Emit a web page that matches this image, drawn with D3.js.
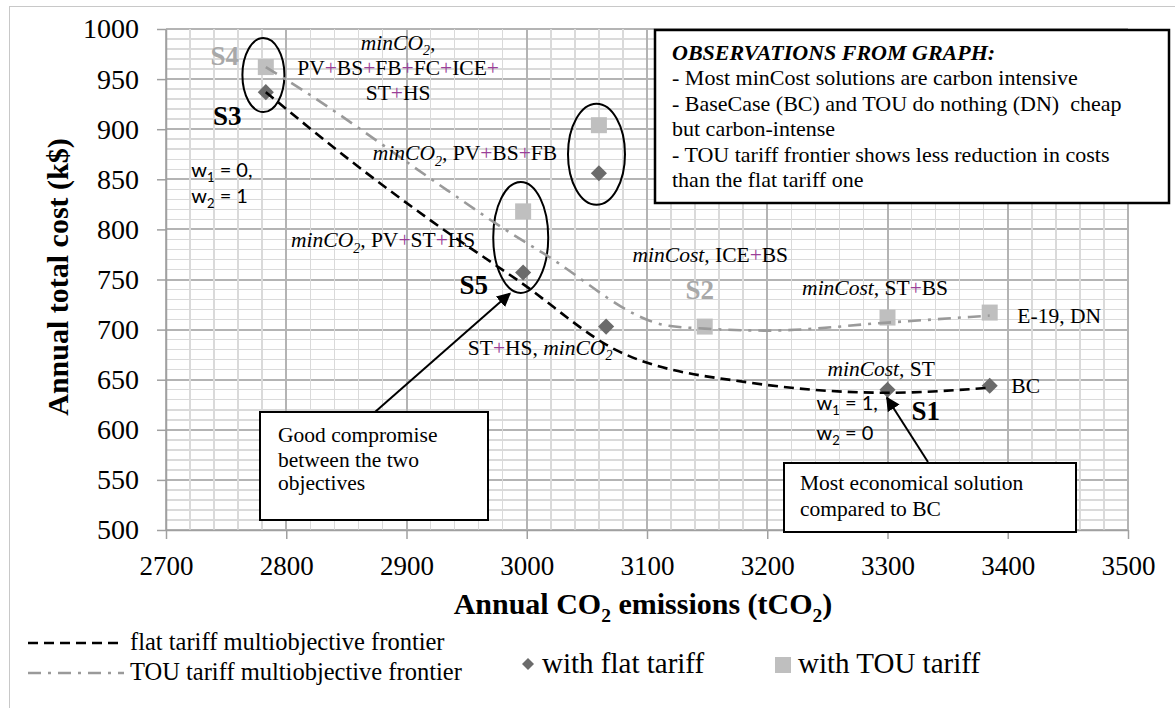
<!DOCTYPE html>
<html>
<head>
<meta charset="utf-8">
<script src="https://cdn.jsdelivr.net/npm/d3@7"></script>
<style>
  body { margin: 0; background: #fff; }
  svg { display: block; }
  text { white-space: pre; }
</style>
</head>
<body>
<svg id="chart" width="1175" height="708"></svg>
<script>
// solutions (annual CO2 in tCO2, annual cost in k$)
const flatX = [2783, 2997, 3066, 3060, 3300, 3385]
const flatY = [937, 757, 703, 856, 640, 644]
const touX = [2783, 2997, 3060, 3148, 3300, 3385]
const touY = [962, 818, 904, 703, 712, 717]

// multiobjective frontiers
const flatFrontierX = [2783, 2853, 2920, 2994, 3077, 3186, 3300, 3385]
const flatFrontierY = [937, 869, 809, 748, 678, 647, 637, 642]
const touFrontierX = [2783, 2811, 2934, 2978, 3014, 3117, 3148, 3200, 3300, 3385]
const touFrontierY = [962, 941, 839, 803, 776, 704, 701, 699, 707, 714]

const xTicks = [2700, 2800, 2900, 3000, 3100, 3200, 3300, 3400, 3500]
const yTicks = [500, 550, 600, 650, 700, 750, 800, 850, 900, 950, 1000]

const observations = [
  '- Most minCost solutions are carbon intensive',
  '- BaseCase (BC) and TOU do nothing (DN)  cheap',
  'but carbon-intense',
  '- TOU tariff frontier shows less reduction in costs',
  'than the flat tariff one'
]

const serif = '"Liberation Serif", "Times New Roman", serif'
const sans = 'Lato, "Liberation Sans", sans-serif'
const plusColor = '#9a3f98'

const svg = d3.select('#chart')

const x = d3.scaleLinear().domain([2700, 3500]).range([166, 1128])
const y = d3.scaleLinear().domain([500, 1000]).range([530, 29])

// outer frame
svg.append('rect')
  .attr('x', 9.5).attr('y', 6.5).attr('width', 1200).attr('height', 800)
  .attr('fill', 'none').attr('stroke', '#c8c8c8')

// grid
const grid = svg.append('g').attr('shape-rendering', 'crispEdges')

grid.selectAll('.hline')
  .data(d3.range(500, 1001, 10))
  .join('line')
  .attr('x1', x(2700)).attr('x2', x(3500))
  .attr('y1', d => y(d)).attr('y2', d => y(d))
  .attr('stroke', d => d % 50 === 0 ? '#b4b4b4' : '#dadada')
  .attr('stroke-width', d => d % 50 === 0 ? 2 : 1.5)

grid.selectAll('.vline')
  .data(d3.range(2700, 3501, 20))
  .join('line')
  .attr('x1', d => x(d)).attr('x2', d => x(d))
  .attr('y1', y(500)).attr('y2', y(1000))
  .attr('stroke', d => d % 100 === 0 ? '#b4b4b4' : '#dadada')
  .attr('stroke-width', d => d % 100 === 0 ? 2 : 1.5)

// axes
svg.append('g')
  .attr('transform', `translate(${x(2700)},0)`)
  .call(d3.axisLeft(y).tickValues(yTicks).tickFormat(d3.format('d'))
    .tickSize(9).tickPadding(18).tickSizeOuter(0))
  .call(g => g.selectAll('path, line').attr('stroke', '#a0a0a0').attr('stroke-width', 1.5))
  .call(g => g.selectAll('text').attr('font-family', serif).attr('font-size', 28).attr('fill', '#000'))

svg.append('g')
  .attr('transform', `translate(0,${y(500)})`)
  .call(d3.axisBottom(x).tickValues(xTicks).tickFormat(d3.format('d'))
    .tickSize(9).tickPadding(17).tickSizeOuter(0))
  .call(g => g.selectAll('path, line').attr('stroke', '#a0a0a0').attr('stroke-width', 1.5))
  .call(g => g.selectAll('text').attr('font-family', serif).attr('font-size', 27).attr('fill', '#000'))

// text with italic / subscript parts, '+' signs tinted
function addText(g, px, py, parts, size, opts = {}) {
  const t = g.append('text')
    .attr('x', px).attr('y', py)
    .attr('font-family', opts.family || serif)
    .attr('font-size', size)
    .attr('font-weight', opts.bold ? 'bold' : null)
    .attr('text-anchor', opts.anchor || 'start')
    .attr('fill', opts.color || '#000')
  let shift = 0
  parts.forEach(([str, style = '']) => {
    const sub = style.includes('s')
    const dy = (sub ? size * 0.25 : 0) - shift
    shift = sub ? size * 0.25 : 0
    str.split(/(\+)/).filter(s => s).forEach((piece, i) => {
      const ts = t.append('tspan').text(piece)
      if (i === 0 && dy) ts.attr('dy', dy)
      if (style.includes('i')) ts.attr('font-style', 'italic')
      if (sub) ts.attr('font-size', size * 0.65)
      if (piece === '+' && !opts.bold) ts.attr('fill', plusColor)
    })
  })
  return t
}

const at = (xv, yv) => [x(xv), y(yv)]

// axis titles
addText(svg, 0, 0, [['Annual total cost (k$)']], 30, {bold: true, anchor: 'middle'})
  .attr('transform', 'translate(68,277) rotate(-90)')

addText(svg, 643, 614, [['Annual CO'], ['2', 's'], [' emissions (tCO'], ['2', 's'], [')']], 30,
  {bold: true, anchor: 'middle'})

// ellipses around solution groups
const ellipses = [
  {cx: 2781, cy: 954, rx: 21, ry: 37},
  {cx: 3058, cy: 875, rx: 28.5, ry: 50.5},
  {cx: 2995, cy: 792, rx: 27.5, ry: 55.5}
]
svg.append('g').selectAll('ellipse')
  .data(ellipses)
  .join('ellipse')
  .attr('cx', d => x(d.cx)).attr('cy', d => y(d.cy))
  .attr('rx', d => d.rx).attr('ry', d => d.ry)
  .attr('fill', 'none').attr('stroke', '#000').attr('stroke-width', 2)

// markers
svg.append('g').selectAll('rect')
  .data(d3.zip(touX, touY))
  .join('rect')
  .attr('x', d => x(d[0]) - 8).attr('y', d => y(d[1]) - 8)
  .attr('width', 16).attr('height', 16)
  .attr('fill', '#bfbfbf')

const diamond = d3.symbol(d3.symbolSquare, 130)
svg.append('g').selectAll('path')
  .data(d3.zip(flatX, flatY))
  .join('path')
  .attr('d', diamond)
  .attr('transform', d => `translate(${x(d[0])},${y(d[1])}) rotate(45)`)
  .attr('fill', '#6b6b6b')

// frontier curves
const line = d3.line()
  .x(d => x(d[0]))
  .y(d => y(d[1]))
  .curve(d3.curveMonotoneX)

svg.append('path')
  .datum(d3.zip(touFrontierX, touFrontierY))
  .attr('d', line)
  .attr('fill', 'none')
  .attr('stroke', '#9a9a9a')
  .attr('stroke-width', 2.6)
  .attr('stroke-dasharray', '13,7,3,7')

svg.append('path')
  .datum(d3.zip(flatFrontierX, flatFrontierY))
  .attr('d', line)
  .attr('fill', 'none')
  .attr('stroke', '#000')
  .attr('stroke-width', 2.6)
  .attr('stroke-dasharray', '10,6')

// point labels
const labels = svg.append('g')
const lab = 21.5
addText(labels, ...at(2893, 979), [['minCO', 'i'], ['2', 'is'], [',', 'i']], lab, {anchor: 'middle'})
addText(labels, ...at(2893, 954), [['PV+BS+FB+FC+ICE+']], lab, {anchor: 'middle'})
addText(labels, ...at(2893, 929), [['ST+HS']], lab, {anchor: 'middle'})
addText(labels, ...at(2872, 869), [['minCO', 'i'], ['2', 'is'], [',', 'i'], [' PV+BS+FB']], lab)
addText(labels, ...at(2804, 782), [['minCO', 'i'], ['2', 'is'], [',', 'i'], [' PV+ST+HS']], lab)
addText(labels, ...at(2951, 675), [['ST+HS, '], ['minCO', 'i'], ['2', 'is']], lab)
addText(labels, ...at(3088, 767), [['minCost,', 'i'], [' ICE+BS']], lab)
addText(labels, ...at(3229, 735), [['minCost,', 'i'], [' ST+BS']], lab)
addText(labels, ...at(3408, 707), [['E-19, DN']], lab)
addText(labels, ...at(3250, 654), [['minCost,', 'i'], [' ST']], lab)
addText(labels, ...at(3403, 637), [['BC']], lab)

addText(labels, ...at(2737, 964), [['S4']], 27, {bold: true, color: '#a8a8a8'})
addText(labels, ...at(2739, 904), [['S3']], 27, {bold: true})
addText(labels, ...at(2944, 736), [['S5']], 27, {bold: true})
addText(labels, ...at(3132, 731), [['S2']], 27, {bold: true, color: '#a8a8a8'})
addText(labels, ...at(3320, 610), [['S1']], 27, {bold: true})

addText(labels, ...at(2721, 852), [['w'], ['1', 's'], [' = 0,']], 20, {family: sans})
addText(labels, ...at(2721, 826), [['w'], ['2', 's'], [' = 1']], 20, {family: sans})
addText(labels, ...at(3241, 620), [['w'], ['1', 's'], [' = 1,']], 20, {family: sans})
addText(labels, ...at(3241, 590), [['w'], ['2', 's'], [' = 0']], 20, {family: sans})

// arrows
svg.append('defs').append('marker')
  .attr('id', 'head')
  .attr('viewBox', '0 0 10 10')
  .attr('refX', 9).attr('refY', 5)
  .attr('markerWidth', 7).attr('markerHeight', 7)
  .attr('markerUnits', 'strokeWidth')
  .attr('orient', 'auto')
  .append('path')
  .attr('d', 'M0,0 L10,5 L0,10 z')
  .attr('fill', '#000')

const arrows = [
  {from: [375, 412], to: at(2986, 736)},
  {from: [928, 462], to: at(3299.5, 632)}
]
svg.append('g').selectAll('line')
  .data(arrows)
  .join('line')
  .attr('x1', d => d.from[0]).attr('y1', d => d.from[1])
  .attr('x2', d => d.to[0]).attr('y2', d => d.to[1])
  .attr('stroke', '#000').attr('stroke-width', 2)
  .attr('marker-end', 'url(#head)')

// callout boxes
const boxes = svg.append('g')
boxes.append('rect')
  .attr('x', 260).attr('y', 412).attr('width', 228).attr('height', 108)
  .attr('fill', '#fff').attr('stroke', '#000').attr('stroke-width', 2)
addText(boxes, 278, 442, [['Good compromise']], 21.5)
addText(boxes, 278, 467, [['between the two']], 21.5)
addText(boxes, 278, 490, [['objectives']], 21.5)

boxes.append('rect')
  .attr('x', 784).attr('y', 463).attr('width', 292).attr('height', 69)
  .attr('fill', '#fff').attr('stroke', '#000').attr('stroke-width', 2)
addText(boxes, 800, 490, [['Most economical solution']], 21.5)
addText(boxes, 800, 516, [['compared to BC']], 21.5)

boxes.append('rect')
  .attr('x', 655).attr('y', 30).attr('width', 514).attr('height', 173)
  .attr('fill', '#fff').attr('stroke', '#000').attr('stroke-width', 2.5)
addText(boxes, 672, 60, [['OBSERVATIONS FROM GRAPH:', 'i']], 22, {bold: true})
observations.forEach((s, i) => {
  addText(boxes, 672, 85 + i * 25.5, [[s]], 22)
})

// legend
const legend = svg.append('g')
legend.append('line')
  .attr('x1', 28).attr('x2', 124).attr('y1', 643).attr('y2', 643)
  .attr('stroke', '#000').attr('stroke-width', 2.6).attr('stroke-dasharray', '10,6')
addText(legend, 130, 650, [['flat tariff multiobjective frontier']], 24.5)

legend.append('line')
  .attr('x1', 28).attr('x2', 124).attr('y1', 673).attr('y2', 673)
  .attr('stroke', '#9a9a9a').attr('stroke-width', 2.6).attr('stroke-dasharray', '13,7,3,7')
addText(legend, 130, 680, [['TOU tariff multiobjective frontier']], 24.5)

legend.append('path')
  .attr('d', d3.symbol(d3.symbolSquare, 72))
  .attr('transform', 'translate(528,664) rotate(45)')
  .attr('fill', '#6b6b6b')
addText(legend, 542, 673, [['with flat tariff']], 29)

legend.append('rect')
  .attr('x', 775).attr('y', 657).attr('width', 16).attr('height', 16)
  .attr('fill', '#bfbfbf')
addText(legend, 798, 673, [['with TOU tariff']], 29)
</script>
</body>
</html>
